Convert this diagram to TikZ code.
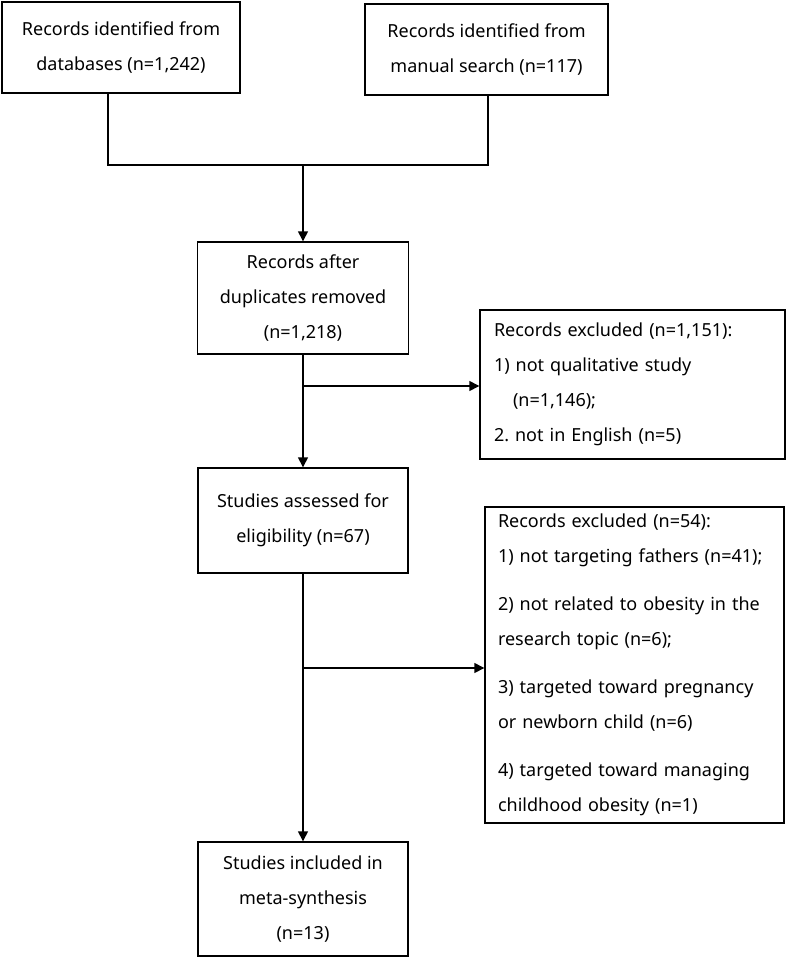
\documentclass[tikz,border=0pt]{standalone}
\usepackage{fontspec}
\setmainfont{Noto Sans}
\usetikzlibrary{arrows.meta}
\begin{document}
\frenchspacing
\begin{tikzpicture}[x=1pt,y=-1pt,
  box/.style={draw, line width=1.4pt, rectangle, inner sep=0pt, align=center,
    font=\fontsize{18}{35}\selectfont},
  lbox/.style={box, align=left},
  conn/.style={line width=1.4pt},
  arr/.style={conn, -{Triangle[length=10pt,width=10pt]}}]
\useasboundingbox (0,0) rectangle (786,959);
\node[box, minimum width=238pt, minimum height=91pt] (b1) at (121,47.5)
  {Records identified from\\databases (n=1,242)};
\node[box, minimum width=243pt, minimum height=91pt] (b2) at (486.5,49.5)
  {Records identified from\\manual search (n=117)};
\node[box, minimum width=211pt, minimum height=112pt] (b3) at (303,298)
  {Records after\\duplicates removed\\(n=1,218)};
\node[box, minimum width=210pt, minimum height=105pt] (b4) at (303,520.5)
  {Studies assessed for\\eligibility (n=67)};
\node[box, minimum width=210pt, minimum height=114pt] (b6) at (303,899)
  {Studies included in\\meta-synthesis\\(n=13)};
\node[lbox, minimum width=305pt, minimum height=149pt, text width=277pt] (b5) at (632.5,384.5)
  {Records excluded (n=1,151):\\1) not qualitative study\\\hspace*{19pt}(n=1,146);\\2. not in English (n=5)};
\node[lbox, minimum width=299pt, minimum height=316pt, text width=273pt] (b7) at (634.5,665)
  {Records excluded (n=54):\\1) not targeting fathers (n=41);\\[13pt]2) not related to obesity in the\\research topic (n=6);\\[13pt]3) targeted toward pregnancy\\or newborn child (n=6)\\[13pt]4) targeted toward managing\\childhood obesity (n=1)};
\coordinate (jl) at (108,165);
\coordinate (jr) at (488,165);
\coordinate (jm) at (303,165);
\coordinate (br1) at (303,386);
\coordinate (br2) at (303,668);
\draw[conn] (jl |- b1.south) -- (jl) -- (jr) -- (jr |- b2.south);
\draw[arr] (jm) -- (b3.north);
\draw[arr] (b3.south) -- (b4.north);
\draw[arr] (br1) -- (br1 -| b5.west);
\draw[arr] (b4.south) -- (b6.north);
\draw[arr] (br2) -- (br2 -| b7.west);
\end{tikzpicture}
\end{document}
